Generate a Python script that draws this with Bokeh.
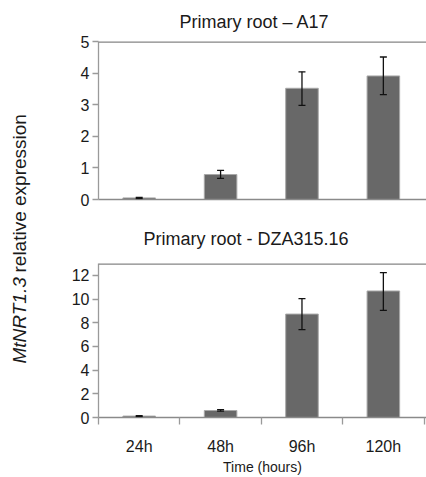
import numpy as np
from bokeh.plotting import figure
from bokeh.layouts import row, column
from bokeh.models import Range1d, FixedTicker, Whisker, TeeHead, ColumnDataSource, Span
from bokeh.core.properties import value
from bokeh.embed import file_html
from bokeh.resources import INLINE

# ---- data ----
categories = ["24h", "48h", "96h", "120h"]
a17_mean = [0.05, 0.79, 3.52, 3.91]
a17_lower = [0.03, 0.67, 2.98, 3.32]
a17_upper = [0.07, 0.92, 4.04, 4.51]
dza_mean = [0.12, 0.59, 8.73, 10.68]
dza_lower = [0.08, 0.53, 7.41, 9.04]
dza_upper = [0.16, 0.66, 10.03, 12.23]
a17_ticks = [0, 1, 2, 3, 4, 5]
dza_ticks = [0, 2, 4, 6, 8, 10, 12]
top_title = "Primary root – A17"
bottom_title = "Primary root - DZA315.16"
x_title = "Time (hours)"
y_title_italic = "MtNRT1.3"
y_title_rest = "relative expression"

FONT = "Liberation Sans"
BAR = "#686868"
BAR_EDGE = "#a8a8a8"
AXIS = "#9a9a9a"
TEXT = "#1a1a1a"

xs = [i + 0.5 for i in range(len(categories))]


def panel(title, mean, lower, upper, yticks, ymax, h, b_top, b_bottom, b_left,
          t_offset, t_standoff, show_x):
    p = figure(width=392, height=h, x_range=Range1d(0, 4.03), y_range=Range1d(0, ymax),
               output_backend="svg", toolbar_location=None,
               min_border_left=b_left, min_border_right=0,
               min_border_top=b_top, min_border_bottom=b_bottom,
               outline_line_color=None, background_fill_color="white",
               border_fill_color="white")
    p.title.text = title
    p.title.align = "left"
    p.title.offset = t_offset
    p.title.text_font = FONT
    p.title.text_font_size = "18px"
    p.title.text_font_style = "normal"
    p.title.text_color = TEXT
    p.title.standoff = t_standoff
    p.xgrid.visible = False
    p.ygrid.visible = False

    p.vbar(x=xs, top=mean, bottom=0, width=0.4, fill_color=BAR,
           line_color=BAR_EDGE, line_width=1)
    src = ColumnDataSource(dict(x=xs, lower=lower, upper=upper))
    w = Whisker(source=src, base="x", lower="lower", upper="upper",
                line_color="#111111", line_width=1.3, level="overlay",
                upper_head=TeeHead(size=7, line_color="#111111", line_width=1.3),
                lower_head=TeeHead(size=7, line_color="#111111", line_width=1.3))
    p.add_layout(w)
    p.add_layout(Span(location=ymax, dimension="width", line_color="#858585", line_width=2.5))

    ya = p.yaxis[0]
    ya.ticker = FixedTicker(ticks=yticks)
    ya.axis_line_color = AXIS
    ya.axis_line_width = 1.3
    ya.major_tick_line_color = AXIS
    ya.major_tick_line_width = 1.3
    ya.major_tick_out = 6
    ya.major_tick_in = 0
    ya.minor_tick_line_color = None
    ya.major_label_text_font = FONT
    ya.major_label_text_font_size = "16px"
    ya.major_label_text_color = TEXT
    ya.major_label_standoff = 3

    xa = p.xaxis[0]
    xa.axis_line_color = "#8a8a8a"
    xa.axis_line_width = 1.5
    if show_x:
        xa.ticker = FixedTicker(ticks=xs, minor_ticks=list(range(len(categories) + 1)))
        xa.major_label_overrides = {x: c for x, c in zip(xs, categories)}
        xa.major_tick_line_color = None
        xa.major_tick_out = 0
        xa.major_tick_in = 0
        xa.minor_tick_line_color = AXIS
        xa.minor_tick_line_width = 1.3
        xa.minor_tick_out = 7
        xa.minor_tick_in = 0
        xa.major_label_text_font = FONT
        xa.major_label_text_font_size = "16px"
        xa.major_label_text_color = TEXT
        xa.major_label_standoff = 13
        xa.axis_label = x_title
        xa.axis_label_text_font = FONT
        xa.axis_label_text_font_size = "14px"
        xa.axis_label_text_font_style = "normal"
        xa.axis_label_text_color = TEXT
        xa.axis_label_standoff = 1
    else:
        xa.ticker = FixedTicker(ticks=[])
        xa.major_tick_line_color = None
        xa.minor_tick_line_color = None
    return p


p1 = panel(top_title, a17_mean, a17_lower, a17_upper, a17_ticks, 5, 211, 41, 12, 55, 81, 19, False)
p2 = panel(bottom_title, dza_mean, dza_lower, dza_upper, dza_ticks, 13, 266, 52, 60, 64, 45, 30, True)

lab = figure(width=34, height=477, x_range=Range1d(0, 34), y_range=Range1d(0, 477),
             output_backend="svg", toolbar_location=None, min_border=0,
             outline_line_color=None)
lab.axis.visible = False
lab.xgrid.visible = False
lab.ygrid.visible = False
lab.text(x=[19], y=[477 - 363], text=[y_title_italic], angle=np.pi / 2,
         text_align="left", text_baseline="middle", text_font=value(FONT),
         text_font_style="italic", text_font_size="19px", text_color=TEXT)
lab.text(x=[19], y=[477 - 272], text=[y_title_rest], angle=np.pi / 2,
         text_align="left", text_baseline="middle", text_font=value(FONT),
         text_font_style="normal", text_font_size="19px", text_color=TEXT)

layout = row(lab, column(p1, p2))
open("out.html", "w").write(file_html(layout, INLINE))
